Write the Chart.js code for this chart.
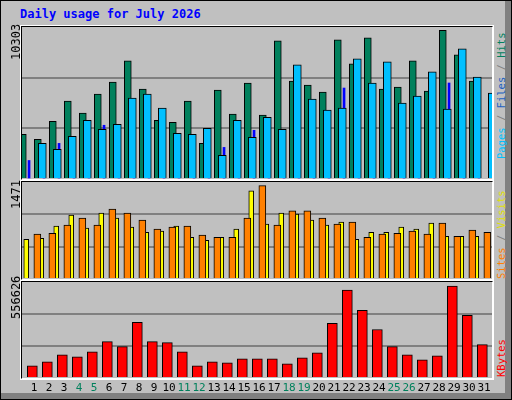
<!DOCTYPE html>
<html>
<head>
<meta charset="utf-8">
<script src="https://cdn.jsdelivr.net/npm/chart.js@4"></script>
<style>
  body { margin:0; background:#fff; }
  #wrap { position:relative; width:510px; height:398px; border:1px solid #000; background:#c0c0c0; overflow:hidden; font-family:"DejaVu Sans Mono", monospace; }
  #shadowR { position:absolute; left:504px; top:0; width:6px; height:398px; background:#808080; }
  #shadowB { position:absolute; left:0; top:392px; width:510px; height:6px; background:#808080; }
  .frame { position:absolute; background:#c0c0c0; border-top:1px solid #000; border-left:1px solid #000; border-right:1px solid #fff; border-bottom:1px solid #fff; box-shadow:0 0 0 1px #fff; }
  .frame canvas { position:absolute; left:0; top:0; }
  #title { position:absolute; left:19px; top:6px; color:#0000ff; font-weight:bold; font-size:12px; }
  .rot { position:absolute; transform-origin:left top; transform:rotate(-90deg); white-space:nowrap; font-size:12px; }
  .leg { font-size:10.5px; }
  .day { position:absolute; top:380px; font-size:11px; width:16px; text-align:center; }
</style>
</head>
<body>
<div id="wrap">
  <div id="shadowR"></div><div id="shadowB"></div>
  <div id="title">Daily usage for July 2026</div>
  <div class="frame" style="left:20px;top:25px;width:470px;height:152px"><canvas id="c1"></canvas></div>
  <div class="frame" style="left:20px;top:180px;width:470px;height:97px"><canvas id="c2"></canvas></div>
  <div class="frame" style="left:20px;top:280px;width:470px;height:96px"><canvas id="c3"></canvas></div>
  <div class="rot" style="left:8px;top:59px;color:#000">10303</div>
  <div class="rot" style="left:8px;top:208px;color:#000">1471</div>
  <div class="rot" style="left:8px;top:318px;color:#000">556626</div>
  <div class="rot leg" style="left:494px;top:158px"><span style="color:#00c0ff">Pages</span> <span style="color:#808080">/</span> <span style="color:#2060c0">Files</span> <span style="color:#808080">/</span> <span style="color:#00805c">Hits</span></div>
  <div class="rot leg" style="left:494px;top:278px"><span style="color:#ff8000">Sites</span> <span style="color:#808080">/</span> <span style="color:#e0e000">Visits</span></div>
  <div class="rot leg" style="left:494px;top:376px;color:#ff0000">KBytes</div>
  <div id="days"></div>
</div>
<script>
const days = Array.from({length:31}, (_, i) => i + 1);
const weekend = [4,5,11,12,18,19,25,26];

const hits  = [3096,2747,4003,5397,4561,5886,6722,8187,6234,4073,3933,5397,2469,6165,4491,6653,4421,9582,6792,6513,6025,9651,7978,9791,6234,6374,8187,6095,10303,8605,6792];
const files = [2468,2050,2957,4073,3445,3794,5607,5886,4909,3166,3096,3515,1632,4073,2887,4282,3445,7908,5537,4770,4909,8326,6653,8117,5258,5746,7420,4840,9024,7071,5956];
const pages = [1283,1492,2469,2399,2608,3724,3166,4212,3027,3027,2957,2050,1632,2190,2469,3375,2678,3375,4003,3027,4421,6304,4770,4491,3584,3236,3027,3445,6653,4770,3724];

const sites  = [626,642,833,1008,801,1040,960,817,737,753,833,658,610,658,785,1390,865,1040,1024,928,849,897,626,737,737,817,785,881,674,674,674];
const visits = [706,721,849,960,849,1103,1040,928,785,817,833,690,658,658,960,1471,849,1072,1072,960,865,897,658,706,721,753,706,881,674,769,737];

const kbytes = [73400,97870,140700,128450,159040,220200,189620,336420,220200,214090,159040,73400,97870,91750,116220,116220,116220,85630,122330,152920,330300,532160,409830,293600,189620,140700,110100,134570,556626,379240,201850];

const pitch = 15;

function ds(vals, color, axis, thick, order, border) {
  return {
    data: vals.map((v, i) => ({x: days[i], y: v})),
    backgroundColor: color, borderColor: "#000", borderWidth: border ? 1 : 0,
    borderSkipped: "bottom", barThickness: thick, xAxisID: axis, order
  };
}

function xAxis(min) {
  return { type: "linear", display: false, offset: false, bounds: "ticks", min: min, max: min + 470 / pitch };
}

function makeChart(id, w, h, datasets, xs, ymax) {
  const cv = document.getElementById(id);
  cv.width = w; cv.height = h;
  cv.style.width = w + "px"; cv.style.height = h + "px";
  const scales = Object.assign({}, xs, {
    y: {
      min: 0, max: ymax,
      ticks: { display: false, stepSize: ymax / 3 },
      border: { display: false },
      grid: { drawTicks: false, lineWidth: 2,
        color: c => (c.tick.value > 0 && c.tick.value < ymax - 1) ? "#808080" : "rgba(0,0,0,0)" }
    }
  });
  new Chart(cv, {
    type: "bar",
    data: { datasets },
    options: {
      responsive: false, animation: false,
      layout: { padding: 0 },
      plugins: { legend: { display: false }, tooltip: { enabled: false } },
      scales
    }
  });
}

makeChart("c1", 470, 152, [
  ds(hits, "#00805c", "xh", 7, 3, true),
  ds(pages, "#0000ff", "xp", 2, 2, false),
  ds(files, "#00c0ff", "xf", 8, 1, true)
], { xh: xAxis(0.48), xp: xAxis(0.53), xf: xAxis(0.18) }, 10533);

makeChart("c2", 470, 97, [
  ds(sites, "#ffff00", "xs", 5, 2, true),
  ds(visits, "#ff8000", "xv", 7, 1, true)
], { xs: xAxis(0.55), xv: xAxis(0.21) }, 1528);

makeChart("c3", 470, 96, [
  ds(kbytes, "#ff0000", "xk", 10, 1, true)
], { xk: xAxis(0.31) }, 581100);

const daysDiv = document.getElementById("days");
days.forEach((d, i) => {
  const s = document.createElement("div");
  s.className = "day";
  s.textContent = d;
  s.style.left = (21 + (i + 0.8) * pitch - 8) + "px";
  s.style.color = weekend.includes(d) ? "#00805c" : "#000";
  daysDiv.appendChild(s);
});
</script>
</body>
</html>
